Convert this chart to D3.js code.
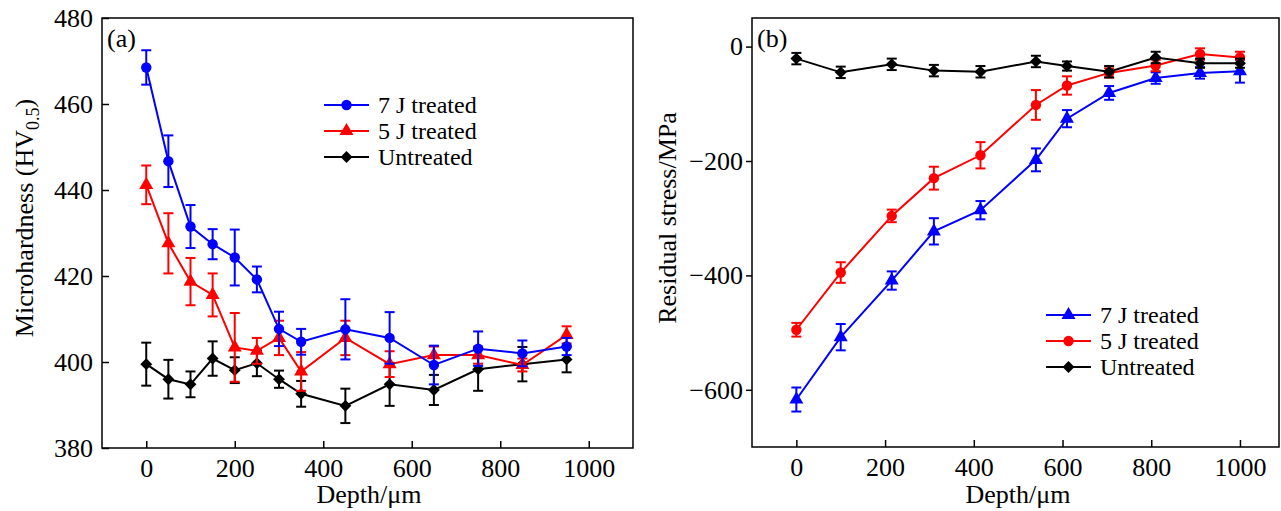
<!DOCTYPE html>
<html>
<head>
<meta charset="utf-8">
<script src="https://cdn.jsdelivr.net/npm/d3@7"></script>
<style>
  body { margin: 0; background: #fff; }
  text { font-family: "Liberation Serif", "Times New Roman", serif; }
</style>
</head>
<body>
<div id="chart"></div>
<script>
// panel (a): microhardness vs depth
const depthA = [0, 50, 100, 150, 200, 250, 300, 350, 450, 550, 650, 750, 850, 950];
const hard7J = [468.5, 446.7, 431.5, 427.4, 424.3, 419.2, 407.7, 404.7, 407.6, 405.6, 399.3, 403.1, 402, 403.6];
const hard7Jerr = [4, 6, 5, 3.5, 6.5, 3, 4, 3, 7, 6, 4.5, 4, 3, 2];
const hard5J = [441.2, 427.6, 418.7, 415.6, 403.4, 402.6, 405.6, 397.8, 405.6, 399.5, 401.6, 401.6, 399.3, 406.3];
const hard5Jerr = [4.5, 7, 5.5, 5, 8, 3, 4, 4.5, 4, 3, 2, 2, 1.5, 2];
const hardUn = [399.5, 396, 394.8, 400.8, 398.1, 399.7, 396, 392.6, 389.8, 394.8, 393.5, 398.3, 399.5, 400.6];
const hardUnErr = [5, 4.5, 3, 4, 3, 3, 2, 3, 4, 5, 3.5, 5, 4, 3];

// panel (b): residual stress vs depth
const depthB = [0, 100, 215, 310, 415, 540, 610, 705, 810, 910, 1000];
const stress7J = [-617, -508, -409, -323, -286, -198, -126, -81, -55, -46, -43];
const stress7Jerr = [21, 23, 16, 23, 16, 20, 15, 12, 10, 10, 20];
const stress5J = [-495, -395, -296, -230, -190, -102, -68, -46, -33, -13, -19];
const stress5Jerr = [12, 18, 11, 20, 23, 26, 16, 8, 10, 10, 10];
const stressUn = [-21, -45, -31, -42, -44, -26, -34, -44, -19, -29, -29];
const stressUnErr = [10, 10, 10, 10, 10, 10, 8, 10, 10, 8, 8];

const labels = ["7 J treated", "5 J treated", "Untreated"];
const xTicks = [0, 200, 400, 600, 800, 1000];

const width = 1281, height = 511;
const serif = "'Liberation Serif', 'Times New Roman', serif";

const svg = d3.select("#chart")
    .append("svg")
    .attr("width", width)
    .attr("height", height);

function drawPanel(cfg) {
    const x = d3.scaleLinear().domain(cfg.xDomain).range([cfg.left, cfg.right]);
    const y = d3.scaleLinear().domain(cfg.yDomain).range([cfg.bottom, cfg.top]);
    const g = svg.append("g");

    // frame
    g.append("rect")
        .attr("x", cfg.left).attr("y", cfg.top)
        .attr("width", cfg.right - cfg.left).attr("height", cfg.bottom - cfg.top)
        .attr("fill", "none").attr("stroke", "#000").attr("stroke-width", 1.5);

    // axes
    const xAxis = g.append("g")
        .attr("transform", `translate(0,${cfg.bottom})`)
        .call(d3.axisBottom(x).tickValues(xTicks).tickSizeInner(-7).tickSizeOuter(0)
            .tickPadding(11).tickFormat(d3.format("d")));
    const yAxis = g.append("g")
        .attr("transform", `translate(${cfg.left},0)`)
        .call(d3.axisLeft(y).tickValues(cfg.yTicks).tickSizeInner(cfg.yTickIn ? -7 : 6).tickSizeOuter(0)
            .tickPadding(cfg.yTickIn ? 9 : 3)
            .tickFormat(d => d < 0 ? "\u2212" + Math.abs(d) : d));
    [xAxis, yAxis].forEach(a => {
        a.attr("font-family", serif).attr("font-size", 26);
        a.select(".domain").remove();
        a.selectAll("line").attr("stroke", "#000").attr("stroke-width", 1.5);
        a.selectAll("text").attr("fill", "#000");
    });

    // x title
    g.append("text")
        .attr("x", cfg.xTitleX).attr("y", 503)
        .attr("text-anchor", "middle").attr("font-size", 26)
        .text("Depth/\u03bcm");

    // y title
    const yt = g.append("text")
        .attr("transform", `translate(${cfg.yTitleX},218) rotate(-90)`)
        .attr("text-anchor", "middle").attr("font-size", 26);
    cfg.yTitle(yt);

    // panel tag
    g.append("text")
        .attr("x", cfg.left + 5).attr("y", cfg.top + 29)
        .attr("font-size", 26).text(cfg.tag);

    // series
    cfg.series.forEach(s => {
        const pts = cfg.xs.map((d, i) => ({ x: d, y: s.values[i], e: s.err[i] }));
        const sg = g.append("g");
        sg.append("path")
            .datum(pts)
            .attr("fill", "none").attr("stroke", s.color).attr("stroke-width", 2)
            .attr("d", d3.line().x(d => x(d.x)).y(d => y(d.y)));
        const eb = sg.selectAll(".err").data(pts).join("g").attr("stroke", s.color).attr("stroke-width", 2);
        eb.append("line")
            .attr("x1", d => x(d.x)).attr("x2", d => x(d.x))
            .attr("y1", d => y(d.y - d.e)).attr("y2", d => y(d.y + d.e));
        eb.append("line")
            .attr("x1", d => x(d.x) - 5).attr("x2", d => x(d.x) + 5)
            .attr("y1", d => y(d.y + d.e)).attr("y2", d => y(d.y + d.e));
        eb.append("line")
            .attr("x1", d => x(d.x) - 5).attr("x2", d => x(d.x) + 5)
            .attr("y1", d => y(d.y - d.e)).attr("y2", d => y(d.y - d.e));
        sg.selectAll(".mk").data(pts).join("path")
            .attr("transform", d => `translate(${x(d.x)},${y(d.y)})`)
            .attr("d", d3.symbol().type(s.symbol).size(s.size))
            .attr("fill", s.color);
    });

    // legend
    const lg = g.append("g");
    cfg.series.slice().sort((a, b) => a.legendOrder - b.legendOrder).forEach((s, i) => {
        const ly = cfg.legendY + i * 26;
        lg.append("line")
            .attr("x1", cfg.legendX).attr("x2", cfg.legendX + 45)
            .attr("y1", ly).attr("y2", ly)
            .attr("stroke", s.color).attr("stroke-width", 2);
        lg.append("path")
            .attr("transform", `translate(${cfg.legendX + 22.5},${ly})`)
            .attr("d", d3.symbol().type(s.symbol).size(s.size))
            .attr("fill", s.color);
        lg.append("text")
            .attr("x", cfg.legendX + 54).attr("y", ly + 8)
            .attr("font-size", 24).text(labels[s.legendOrder]);
    });
}

drawPanel({
    left: 102, right: 633, top: 18, bottom: 448,
    xDomain: [-100, 1100], yDomain: [380, 480],
    yTicks: [380, 400, 420, 440, 460, 480], yTickIn: true,
    xs: depthA, tag: "(a)", yTitleX: 33, xTitleX: 369,
    yTitle: t => {
        t.append("tspan").text("Microhardness (HV");
        t.append("tspan").attr("font-size", 18).attr("dy", 6).text("0.5");
        t.append("tspan").attr("dy", -6).text(")");
    },
    legendX: 324, legendY: 105,
    series: [
        { values: hardUn, err: hardUnErr, color: "#000", symbol: d3.symbolDiamond2, size: 90, legendOrder: 2 },
        { values: hard5J, err: hard5Jerr, color: "#f00", symbol: d3.symbolTriangle, size: 85, legendOrder: 1 },
        { values: hard7J, err: hard7Jerr, color: "#00f", symbol: d3.symbolCircle, size: 85, legendOrder: 0 }
    ]
});

drawPanel({
    left: 752, right: 1279, top: 18, bottom: 447,
    xDomain: [-100, 1088], yDomain: [-700, 50],
    yTicks: [-600, -400, -200, 0], yTickIn: false,
    xs: depthB, tag: "(b)", yTitleX: 676, xTitleX: 1018,
    yTitle: t => t.text("Residual stress/MPa"),
    legendX: 1046, legendY: 315,
    series: [
        { values: stress7J, err: stress7Jerr, color: "#00f", symbol: d3.symbolTriangle, size: 85, legendOrder: 0 },
        { values: stress5J, err: stress5Jerr, color: "#f00", symbol: d3.symbolCircle, size: 85, legendOrder: 1 },
        { values: stressUn, err: stressUnErr, color: "#000", symbol: d3.symbolDiamond2, size: 90, legendOrder: 2 }
    ]
});
</script>
</body>
</html>
